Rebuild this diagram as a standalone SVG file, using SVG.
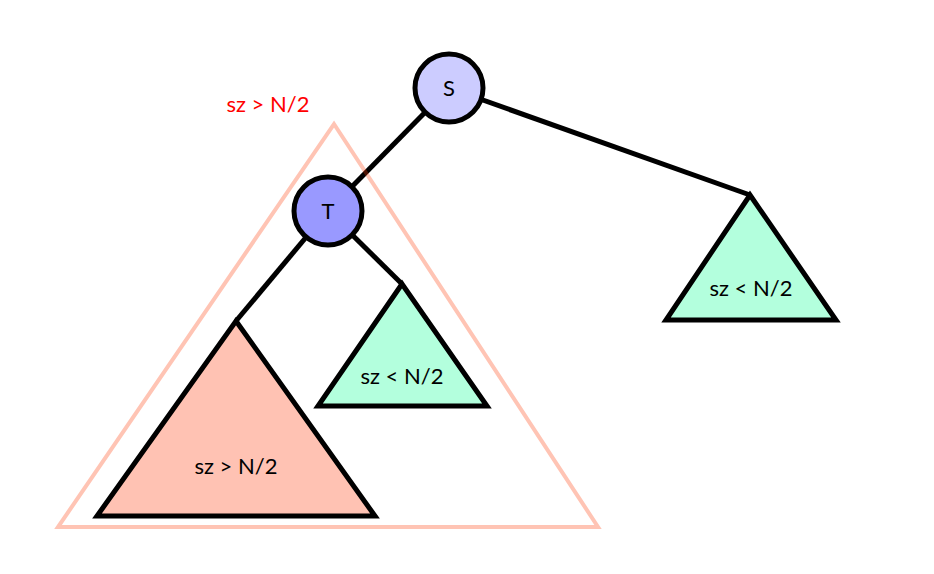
<svg xmlns="http://www.w3.org/2000/svg" width="934" height="574" viewBox="0 0 934 574">
<style>
.edge{stroke:#000;stroke-width:5;fill:none}
.tri{stroke:#000;stroke-width:5;stroke-linejoin:miter}
.node{stroke:#000;stroke-width:5}
.lbl{font-family:Lato,"Open Sans",sans-serif;font-size:22px;fill:#000;text-anchor:middle}
</style>
<rect width="934" height="574" fill="#fff"/>
<g id="connectors">
<line class="edge" x1="449" y1="88" x2="328" y2="211"/>
<line class="edge" x1="449" y1="88" x2="750" y2="195"/>
<line class="edge" x1="328" y1="211" x2="236" y2="321"/>
<line class="edge" x1="328" y1="211" x2="402" y2="284"/>
</g>
<g id="node-S">
<circle class="node" cx="449" cy="88" r="34" fill="#ccccff"/>
<text class="lbl" x="449" y="96">S</text>
</g>
<g id="node-T">
<circle class="node" cx="328" cy="211" r="34" fill="#9999ff"/>
<text class="lbl" x="328" y="219">T</text>
</g>
<g id="subtree-big">
<polygon class="tri" points="236,321 375,516 97,516" fill="#ffc2b3"/>
<text class="lbl" x="236" y="474">sz &gt; N/2</text>
</g>
<g id="subtree-mid">
<polygon class="tri" points="402,284 487,406 318,406" fill="#b3ffdd"/>
<text class="lbl" x="402" y="384">sz &lt; N/2</text>
</g>
<g id="subtree-right">
<polygon class="tri" points="750,195 836,320 666,320" fill="#b3ffdd"/>
<text class="lbl" x="751" y="296">sz &lt; N/2</text>
</g>
<g id="region-T">
<polygon points="334,124 598,527 58,527" fill="none" stroke="#ff3a05" stroke-opacity="0.3" stroke-width="4"/>
<text x="268" y="112" font-family="Lato,'Open Sans',sans-serif" font-size="22" fill="#ff0000" text-anchor="middle">sz &gt; N/2</text>
</g>
</svg>
